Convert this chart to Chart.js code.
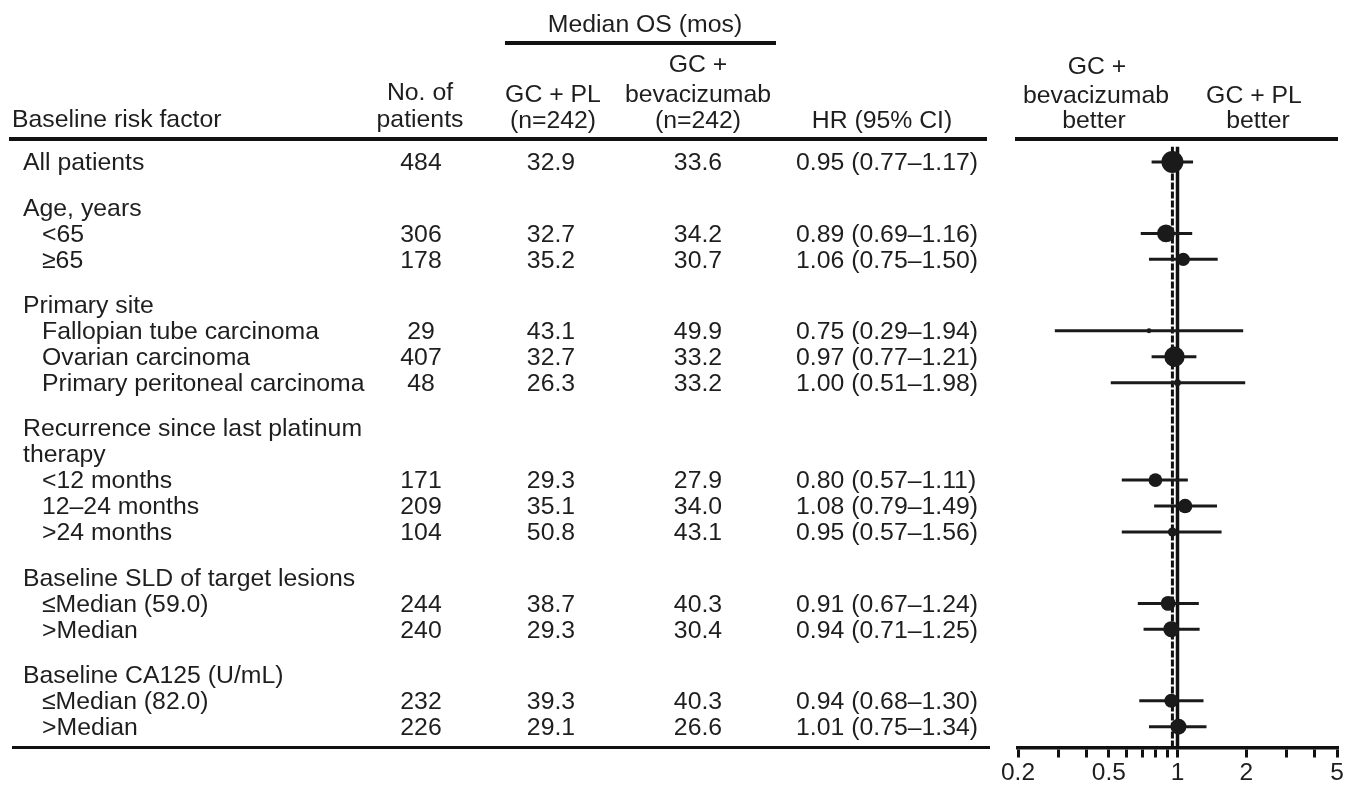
<!DOCTYPE html>
<html>
<head>
<meta charset="utf-8">
<script src="https://cdn.jsdelivr.net/npm/chart.js@4.4.1/dist/chart.umd.min.js"></script>
<style>
  html, body { margin: 0; padding: 0; background: #fff; }
  #wrap { position: relative; width: 1358px; height: 785px; overflow: hidden;
          font-family: 'Liberation Sans', Arial, sans-serif; color: #1e1e1e; }
  #wrap canvas { position: absolute; left: 0; top: 0; }
  .t { position: absolute; white-space: nowrap; font-size: 24.8px; line-height: 26px; }
  .c { transform: translateX(-50%); text-align: center; }
  .rule { position: absolute; background: #111; }
</style>
</head>
<body>
<div id="wrap"><canvas id="forest" width="1358" height="785"></canvas></div>
<script>
// ─── data ───
const subgroups = ['All patients', '<65', '≥65',
  'Fallopian tube carcinoma', 'Ovarian carcinoma', 'Primary peritoneal carcinoma',
  '<12 months', '12–24 months', '>24 months',
  '≤Median (59.0)', '>Median', '≤Median (82.0)', '>Median'];
const groupIndex  = [0, 1, 1, 2, 2, 2, 3, 3, 3, 4, 4, 5, 5];
const groupTitles = [[], ['Age, years'], ['Primary site'],
  ['Recurrence since last platinum', 'therapy'],
  ['Baseline SLD of target lesions'], ['Baseline CA125 (U/mL)']];

const patients = [484, 306, 178, 29, 407, 48, 171, 209, 104, 244, 240, 232, 226];
const osPL     = [32.9, 32.7, 35.2, 43.1, 32.7, 26.3, 29.3, 35.1, 50.8, 38.7, 29.3, 39.3, 29.1];
const osBev    = [33.6, 34.2, 30.7, 49.9, 33.2, 33.2, 27.9, 34.0, 43.1, 40.3, 30.4, 40.3, 26.6];
const hr       = [0.95, 0.89, 1.06, 0.75, 0.97, 1.00, 0.80, 1.08, 0.95, 0.91, 0.94, 0.94, 1.01];
const ciLow    = [0.77, 0.69, 0.75, 0.29, 0.77, 0.51, 0.57, 0.79, 0.57, 0.67, 0.71, 0.68, 0.75];
const ciHigh   = [1.17, 1.16, 1.50, 1.94, 1.21, 1.98, 1.11, 1.49, 1.56, 1.24, 1.25, 1.30, 1.34];

const tickValues = [0.2, 0.3, 0.4, 0.5, 0.6, 0.7, 0.8, 0.9, 1, 2, 3, 4, 5];
const tickLabels = ['0.2', '0.5', '1', '2', '5'];

// ─── row layout (row units) ───
const GROUP_GAP = 0.75;
const Y_MIN = -0.6, Y_MAX = 22.55;
const rowPos = [];
const titleRows = [];
let pos = 0;
subgroups.forEach((s, i) => {
  const g = groupIndex[i];
  if (i > 0 && g !== groupIndex[i - 1]) {
    pos += GROUP_GAP;
    groupTitles[g].forEach(t => { titleRows.push({ text: t, pos }); pos += 1; });
  }
  rowPos.push(pos);
  pos += 1;
});

const ink = '#1a1a1a';
const font = "'Liberation Sans', Arial, sans-serif";

const ciSets = hr.map((v, i) => ({
  showLine: true,
  data: [{ x: ciLow[i], y: rowPos[i] }, { x: ciHigh[i], y: rowPos[i] }],
  borderColor: ink, borderWidth: 3, pointRadius: 0, order: 2
}));

const chart = new Chart(document.getElementById('forest'), {
  type: 'scatter',
  data: {
    datasets: [
      {
        data: hr.map((v, i) => ({ x: v, y: rowPos[i] })),
        backgroundColor: ink, borderWidth: 0,
        pointRadius: hr.map((v, i) => 4.6 / Math.log(ciHigh[i] / ciLow[i])),
        order: 1
      },
      ...ciSets,
      {
        showLine: true, data: [{ x: 1, y: Y_MIN }, { x: 1, y: Y_MAX }],
        borderColor: '#111', borderWidth: 3.5, pointRadius: 0, order: 3
      },
      {
        showLine: true, data: [{ x: hr[0], y: Y_MIN }, { x: hr[0], y: Y_MAX }],
        borderColor: '#111', borderWidth: 3, borderDash: [7, 2], pointRadius: 0, order: 3
      }
    ]
  },
  options: {
    responsive: false,
    animation: false,
    events: [],
    layout: { padding: { left: 1018, right: 21, top: 146.4, bottom: -4.5 } },
    plugins: { legend: { display: false }, tooltip: { enabled: false } },
    scales: {
      x: {
        type: 'logarithmic', min: 0.2, max: 5, position: 'bottom',
        afterBuildTicks: s => { s.ticks = tickValues.map(v => ({ value: v })); },
        grid: { drawOnChartArea: false, tickLength: 10, lineWidth: 3, color: '#111' },
        border: { display: true, color: '#111', width: 3.5 },
        ticks: {
          autoSkip: false, maxRotation: 0, padding: 1.3, color: '#1e1e1e',
          font: { family: font, size: 24.5, lineHeight: 1.2 },
          callback: v => tickLabels.includes(String(v)) ? String(v) : ''
        }
      },
      y: { type: 'linear', min: Y_MIN, max: Y_MAX, reverse: true, display: false }
    }
  }
});

// ─── table text (HTML), rows placed with the chart's y scale ───
const wrap = document.getElementById('wrap');
function addText(str, x, y, centered) {
  const d = document.createElement('div');
  d.className = centered ? 't c' : 't';
  d.textContent = str;
  d.style.left = x + 'px';
  d.style.top = (y - 12.7) + 'px';
  wrap.appendChild(d);
}
function rule(x, y, w, h) {
  const d = document.createElement('div');
  d.className = 'rule';
  Object.assign(d.style, { left: x + 'px', top: y + 'px', width: w + 'px', height: h + 'px' });
  wrap.appendChild(d);
}

// header
addText('Median OS (mos)', 645, 24, true);
addText('GC +', 698, 64, true);
addText('GC + PL', 553, 94, true);
addText('bevacizumab', 698, 94, true);
addText('(n=242)', 553, 120, true);
addText('(n=242)', 698, 120, true);
addText('HR (95% CI)', 882, 120, true);
addText('Baseline risk factor', 12, 119);
addText('No. of', 420, 92, true);
addText('patients', 420, 119, true);
addText('GC +', 1097, 66, true);
addText('bevacizumab', 1096, 95, true);
addText('better', 1094, 120, true);
addText('GC + PL', 1254, 95, true);
addText('better', 1258, 120, true);

rule(505, 41, 271, 3.5);
rule(9, 137.3, 978, 3.5);
rule(1015, 137.3, 323, 3.5);
rule(12, 745.8, 978, 3.5);

// body
const yScale = chart.scales.y;
titleRows.forEach(r => addText(r.text, 23, yScale.getPixelForValue(r.pos)));
subgroups.forEach((s, i) => {
  const y = yScale.getPixelForValue(rowPos[i]);
  addText(s, groupIndex[i] === 0 ? 23 : 42, y);
  addText(String(patients[i]), 421, y, true);
  addText(osPL[i].toFixed(1), 551, y, true);
  addText(osBev[i].toFixed(1), 698, y, true);
  addText(hr[i].toFixed(2) + ' (' + ciLow[i].toFixed(2) + '–' + ciHigh[i].toFixed(2) + ')', 796, y);
});
</script>
</body>
</html>
